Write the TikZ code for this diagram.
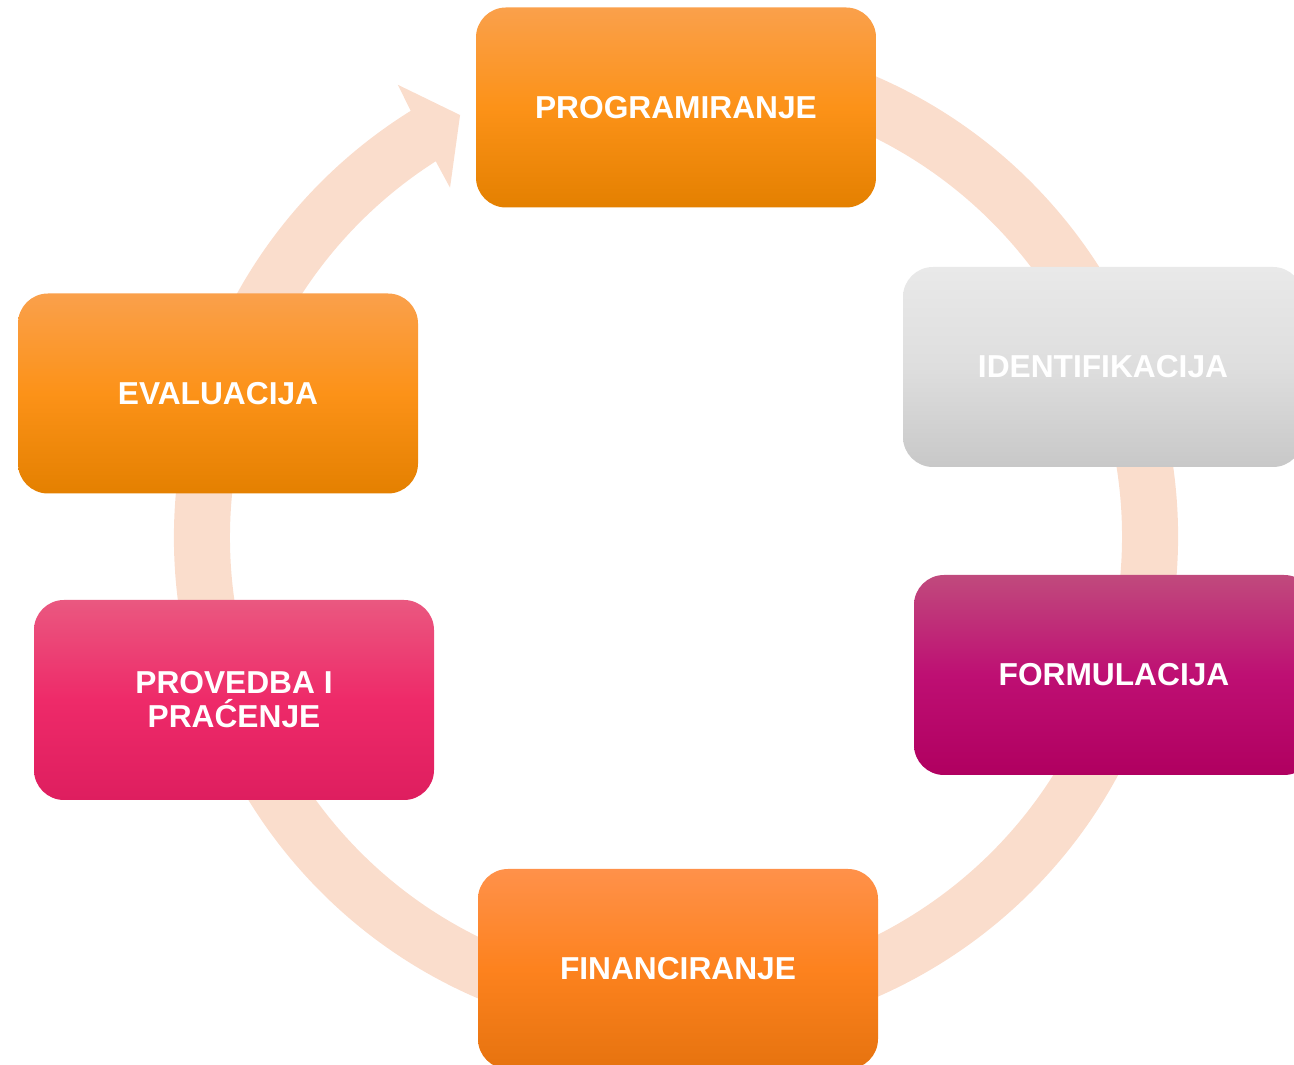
\documentclass[tikz,border=0pt]{standalone}
\usepackage{fontspec}
\setmainfont{Liberation Sans}
\usepackage{tikz}
\usetikzlibrary{shapes,backgrounds,calc}
\usetikzlibrary{positioning}

\definecolor{ringcol}{RGB}{250,221,204}
\definecolor{orTop}{RGB}{250,160,75}
\definecolor{orMid}{RGB}{252,146,24}
\definecolor{orBot}{RGB}{228,128,0}
\definecolor{fiTop}{RGB}{255,145,74}
\definecolor{fiMid}{RGB}{253,130,30}
\definecolor{fiBot}{RGB}{230,115,15}
\definecolor{grTop}{RGB}{233,233,233}
\definecolor{grMid}{RGB}{222,222,222}
\definecolor{grBot}{RGB}{200,200,200}
\definecolor{puTop}{RGB}{192,74,125}
\definecolor{puMid}{RGB}{190,15,115}
\definecolor{puBot}{RGB}{176,0,96}
\definecolor{pkTop}{RGB}{234,88,128}
\definecolor{pkMid}{RGB}{238,42,105}
\definecolor{pkBot}{RGB}{222,30,95}

\tikzset{
  stage/.style={ rounded corners=30pt, minimum width=400pt, minimum height=200pt,
    text=white, align=center, font=\bfseries\fontsize{31.7}{34}\selectfont }
}
\tikzset{
  stOrange/.style={ stage, top color=orTop, bottom color=orBot, middle color=orMid }
}
\tikzset{
  stFin/.style={ stage, top color=fiTop, bottom color=fiBot, middle color=fiMid }
}
\tikzset{
  stGrey/.style={ stage, top color=grTop, bottom color=grBot, middle color=grMid }
}
\tikzset{
  stPurple/.style={ stage, top color=puTop, bottom color=puBot, middle color=puMid }
}
\tikzset{
  stPink/.style={ stage, top color=pkTop, bottom color=pkBot, middle color=pkMid }
}

\begin{document}
\begin{tikzpicture}[x=1pt, y=1pt]
      \useasboundingbox (0,0) rectangle (1294,1065);
      \coordinate (c) at (676,528);

      % ring with arrow head
      \fill[ringcol] ([shift={(80:502)}]c) arc[start angle=80, end angle=-238.1, radius=502pt]
        -- ([shift={(-238.4:531)}]c) -- ([shift={(-242.9:474)}]c)
        -- ([shift={(-237.1:416)}]c) -- ([shift={(-237.4:446)}]c)
        arc[start angle=-237.4, end angle=80, radius=446pt] -- cycle;

      \node[stOrange] (prog) at (676,957.5) {PROGRAMIRANJE};
      \node[stGrey] (ident) at (1103,698) {IDENTIFIKACIJA};
      \node[stPurple] (form) at (1114,390) {FORMULACIJA};
      \node[stFin] (fin) at (678,96) {FINANCIRANJE};
      \node[stPink] (prov) at (234,365) {PROVEDBA I\\PRAĆENJE};
      \node[stOrange] (eval) at (218,671.5) {EVALUACIJA};
    \end{tikzpicture}
\end{document}
